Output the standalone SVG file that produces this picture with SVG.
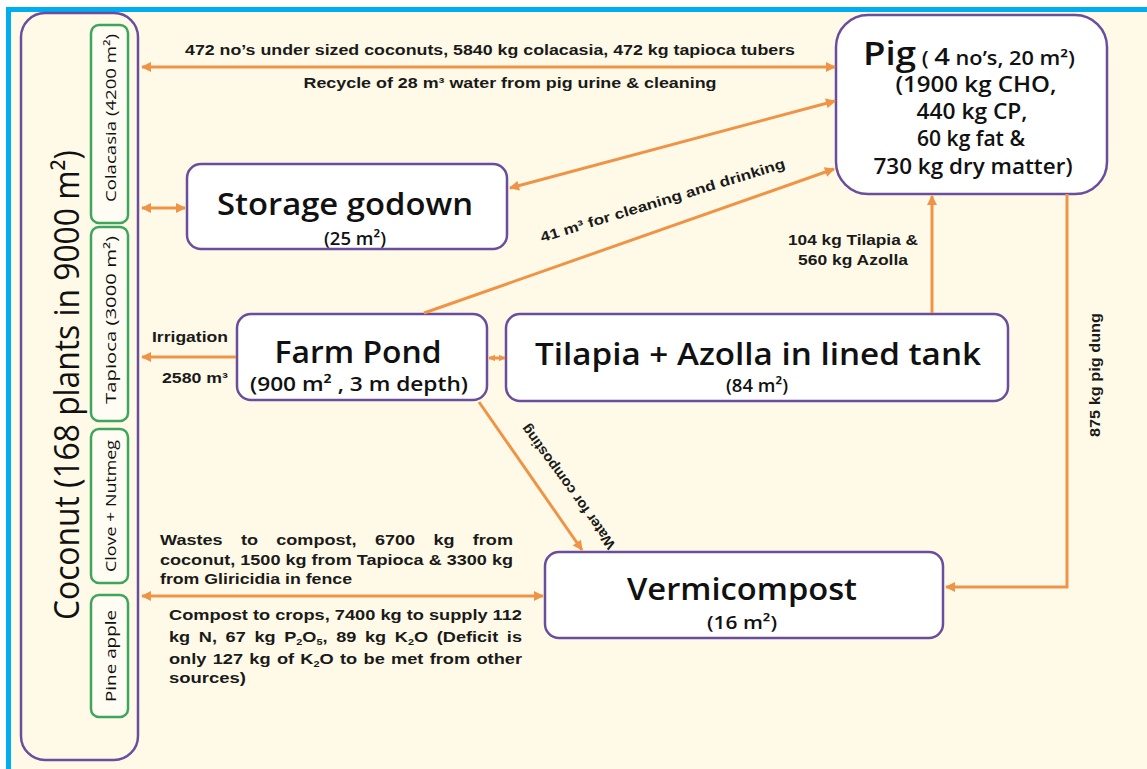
<svg xmlns="http://www.w3.org/2000/svg" width="1147" height="769" viewBox="0 0 1147 769">
<defs>
<marker id="ah" viewBox="0 0 10 10" refX="9" refY="5" markerWidth="11" markerHeight="10" markerUnits="userSpaceOnUse" orient="auto-start-reverse"><path d="M0,0 L10,5 L0,10 z" fill="#EF9446"/></marker>
<marker id="ahs" viewBox="0 0 10 10" refX="9" refY="5" markerWidth="7" markerHeight="8" markerUnits="userSpaceOnUse" orient="auto-start-reverse"><path d="M0,0 L10,5 L0,10 z" fill="#EF9446"/></marker>
<style>
.bx{fill:#fff;stroke:#6A4E9E;stroke-width:2.5}
.gb{fill:#FFFDF3;stroke:#3DA65C;stroke-width:2.5}
.c{fill:none;stroke:#EF9446;stroke-width:3}
.t{font-family:'Open Sans','Lato',sans-serif;fill:#111;font-weight:600;text-anchor:middle}
.v{font-family:'Open Sans','Lato',sans-serif;fill:#111;font-weight:400;text-anchor:middle}
.l{font-family:'Liberation Sans',Arial,sans-serif;font-weight:bold;fill:#1a1a1a;font-size:14px}
.j{font-family:'Liberation Sans',Arial,sans-serif;font-weight:bold;fill:#1a1a1a;font-size:15px}
.m{text-anchor:middle}
</style>
</defs>
<rect x="0" y="0" width="1147" height="769" fill="#FFFAE8"/>
<rect x="0" y="0" width="1147" height="7" fill="#fff"/>
<rect x="0" y="0" width="6" height="769" fill="#fff"/>
<rect x="6" y="7" width="1141" height="5" fill="#00AEEF"/>
<rect x="6" y="7" width="5" height="762" fill="#00AEEF"/>

<g id="coconut">
<rect x="21" y="13" width="117" height="747" rx="24" fill="#FFFAE8" stroke="#6A4E9E" stroke-width="2.5"/>
<text class="v" transform="translate(79,385) rotate(-90)" font-size="34" style="font-weight:500" textLength="470" lengthAdjust="spacingAndGlyphs">Coconut (168 plants in 9000 m²)</text>
</g>
<g id="colacasia">
<rect class="gb" x="91" y="25" width="37" height="198" rx="8"/>
<text class="v" transform="translate(116,118) rotate(-90)" font-size="15" textLength="168" lengthAdjust="spacingAndGlyphs">Colacasia (4200 m²)</text>
</g>
<g id="tapioca">
<rect class="gb" x="91" y="227" width="37" height="194" rx="8"/>
<text class="v" transform="translate(116,320) rotate(-90)" font-size="15" textLength="168" lengthAdjust="spacingAndGlyphs">Tapioca (3000 m²)</text>
</g>
<g id="clove">
<rect class="gb" x="91" y="429" width="37" height="154" rx="8"/>
<text class="v" transform="translate(116,506) rotate(-90)" font-size="15" textLength="132" lengthAdjust="spacingAndGlyphs">Clove + Nutmeg</text>
</g>
<g id="pineapple">
<rect class="gb" x="91" y="595" width="37" height="122" rx="8"/>
<text class="v" transform="translate(116,656) rotate(-90)" font-size="15" textLength="92" lengthAdjust="spacingAndGlyphs">Pine apple</text>
</g>

<g id="pig">
<rect class="bx" x="836" y="15" width="271" height="179" rx="32"/>
<text class="t" x="969" y="65" textLength="212" lengthAdjust="spacingAndGlyphs"><tspan font-size="32">Pig</tspan><tspan font-size="19"> ( </tspan><tspan font-size="24">4</tspan><tspan font-size="19"> no’s, 20 m²)</tspan></text>
<text class="t" x="976" y="92" font-size="21" textLength="161" lengthAdjust="spacingAndGlyphs">(1900 kg CHO,</text>
<text class="t" x="972" y="119" font-size="21" textLength="111" lengthAdjust="spacingAndGlyphs">440 kg CP,</text>
<text class="t" x="971" y="146" font-size="21" textLength="108" lengthAdjust="spacingAndGlyphs">60 kg fat &amp;</text>
<text class="t" x="973" y="174" font-size="21" textLength="199" lengthAdjust="spacingAndGlyphs">730 kg dry matter)</text>
</g>

<g id="storage">
<rect class="bx" x="187" y="164" width="320" height="85" rx="14"/>
<text class="t" x="345" y="215" font-size="31" textLength="256" lengthAdjust="spacingAndGlyphs">Storage godown</text>
<text class="t" x="355" y="245" font-size="18" textLength="62" lengthAdjust="spacingAndGlyphs">(25 m²)</text>
</g>

<g id="farmpond">
<rect class="bx" x="237" y="314" width="250" height="86" rx="14"/>
<text class="t" x="358" y="363" font-size="30" textLength="167" lengthAdjust="spacingAndGlyphs">Farm Pond</text>
<text class="t" x="359" y="391" font-size="20" textLength="218" lengthAdjust="spacingAndGlyphs">(900 m² , 3 m depth)</text>
</g>

<g id="tilapia">
<rect class="bx" x="506" y="314" width="502" height="87" rx="14"/>
<text class="t" x="758" y="365" font-size="30" textLength="446" lengthAdjust="spacingAndGlyphs">Tilapia + Azolla in lined tank</text>
<text class="t" x="757" y="392" font-size="18" textLength="62" lengthAdjust="spacingAndGlyphs">(84 m²)</text>
</g>

<g id="vermicompost">
<rect class="bx" x="545" y="552" width="398" height="86" rx="14"/>
<text class="t" x="742" y="600" font-size="31" textLength="230" lengthAdjust="spacingAndGlyphs">Vermicompost</text>
<text class="t" x="742" y="629" font-size="18" textLength="70" lengthAdjust="spacingAndGlyphs">(16 m²)</text>
</g>

<g id="connectors">
<line class="c" x1="142" y1="67" x2="835" y2="67" marker-start="url(#ah)" marker-end="url(#ah)"/>
<line class="c" x1="142" y1="208" x2="185" y2="208" marker-start="url(#ah)" marker-end="url(#ah)"/>
<line class="c" x1="510" y1="188" x2="835" y2="101" marker-start="url(#ah)" marker-end="url(#ah)"/>
<line class="c" x1="424" y1="313" x2="834" y2="169" marker-end="url(#ah)"/>
<line class="c" x1="932" y1="313" x2="932" y2="196" marker-end="url(#ah)"/>
<line class="c" x1="236" y1="357" x2="142" y2="357" marker-end="url(#ah)"/>
<line class="c" x1="489" y1="358" x2="505" y2="358" marker-start="url(#ahs)" marker-end="url(#ahs)"/>
<line class="c" x1="479" y1="402" x2="582" y2="550" marker-end="url(#ah)"/>
<polyline class="c" points="1067,194 1067,587 946,587" marker-end="url(#ah)"/>
<line class="c" x1="142" y1="596" x2="543" y2="596" marker-start="url(#ah)" marker-end="url(#ah)"/>

<text class="l m" x="490" y="55" textLength="610" lengthAdjust="spacingAndGlyphs">472 no’s under sized coconuts, 5840 kg colacasia, 472 kg tapioca tubers</text>
<text class="l m" x="510" y="88" textLength="413" lengthAdjust="spacingAndGlyphs">Recycle of 28 m³ water from pig urine &amp; cleaning</text>
<text class="l m" transform="translate(664,205) rotate(-17)" textLength="255" lengthAdjust="spacingAndGlyphs">41 m³ for cleaning and drinking</text>
<text class="l m" x="853" y="245" textLength="130" lengthAdjust="spacingAndGlyphs">104 kg Tilapia &amp;</text>
<text class="l m" x="853" y="265" textLength="110" lengthAdjust="spacingAndGlyphs">560 kg Azolla</text>
<text class="l" x="152" y="342" textLength="76" lengthAdjust="spacingAndGlyphs">Irrigation</text>
<text class="l" x="162" y="383" textLength="66" lengthAdjust="spacingAndGlyphs">2580 m³</text>
<text class="l m" transform="translate(572,484) rotate(234)" textLength="150" lengthAdjust="spacingAndGlyphs">Water for composting</text>
<text class="l m" transform="translate(1100,375) rotate(-90)" font-size="13" textLength="124" lengthAdjust="spacingAndGlyphs">875 kg pig dung</text>

<text class="j" x="160" y="545" word-spacing="11" textLength="353" lengthAdjust="spacingAndGlyphs">Wastes to compost, 6700 kg from</text>
<text class="j" x="160" y="565" textLength="353" lengthAdjust="spacingAndGlyphs">coconut, 1500 kg from Tapioca &amp; 3300 kg</text>
<text class="j" x="160" y="584" textLength="192" lengthAdjust="spacingAndGlyphs">from Gliricidia in fence</text>
<text class="j" x="169" y="620" textLength="353" lengthAdjust="spacingAndGlyphs">Compost to crops, 7400 kg to supply 112</text>
<text class="j" x="169" y="642" word-spacing="3" textLength="353" lengthAdjust="spacingAndGlyphs">kg N, 67 kg P<tspan font-size="9" dy="3">2</tspan><tspan dy="-3">O</tspan><tspan font-size="9" dy="3">5</tspan><tspan dy="-3">, 89 kg K</tspan><tspan font-size="9" dy="3">2</tspan><tspan dy="-3">O (Deficit is</tspan></text>
<text class="j" x="169" y="664" word-spacing="1" textLength="353" lengthAdjust="spacingAndGlyphs">only 127 kg of K<tspan font-size="9" dy="3">2</tspan><tspan dy="-3">O to be met from other</tspan></text>
<text class="j" x="169" y="683" textLength="77" lengthAdjust="spacingAndGlyphs">sources)</text>
</g>
</svg>
